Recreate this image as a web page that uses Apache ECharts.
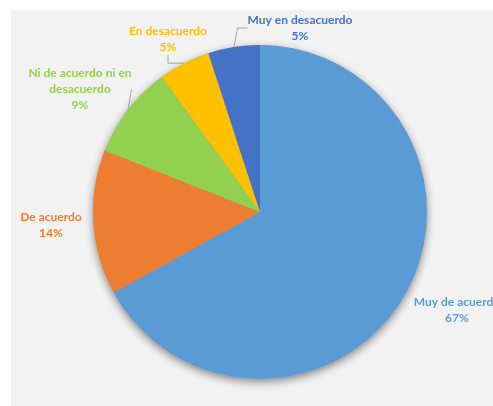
<!DOCTYPE html>
<html>
<head>
<meta charset="utf-8">
<script src="https://cdn.jsdelivr.net/npm/echarts@6/dist/echarts.min.js"></script>
<style>
  html, body { margin: 0; padding: 0; background: #ffffff; width: 493px; height: 406px; overflow: hidden; }
  #chart { position: absolute; left: 11px; top: 10px; width: 490px; height: 396px; background: #F2F2F2; }
</style>
</head>
<body>
<div id="chart"></div>
<script>
const categories = ['Muy de acuerdo', 'De acuerdo', 'Ni de acuerdo ni en\ndesacuerdo', 'En desacuerdo', 'Muy en desacuerdo'];
const values = [67, 14, 9, 5, 5];
const colors = ['#5B9BD5', '#ED7D31', '#92D050', '#FFC000', '#4472C4'];
const showLine = [false, false, true, true, true];
// label anchor positions (container px)
const labelPos = [[446, 300], [40, 215], [69, 79], [157, 29], [289, 18]];

const chart = echarts.init(document.getElementById('chart'));
const data = categories.map((c, i) => ({
  name: c, value: values[i],
  itemStyle: { color: colors[i] },
  label: { color: colors[i] },
  labelLine: { show: showLine[i] }
}));

chart.setOption({
  backgroundColor: '#F2F2F2',
  animation: false,
  series: [
    {
      type: 'pie',
      silent: true,
      center: [249, 202],
      radius: [0, 167],
      startAngle: 90,
      clockwise: true,
      z: 1,
      label: { show: false },
      labelLine: { show: false },
      itemStyle: { color: '#bbbbbb', shadowBlur: 8, shadowColor: 'rgba(0,0,0,0.45)', shadowOffsetY: 3 },
      data: values.map(v => ({ value: v }))
    },
    {
      type: 'pie',
      center: [249, 202],
      radius: [0, 167],
      startAngle: 90,
      clockwise: true,
      z: 2,
      data: data,
      label: {
        show: true,
        position: 'outside',
        formatter: p => p.name + '\n' + p.value + '%',
        fontFamily: 'Lato',
        fontWeight: 'bold',
        fontSize: 12,
        lineHeight: 16,
        align: 'center',
        overflow: 'none'
      },
      labelLine: { show: true, lineStyle: { color: '#A6A6A6', width: 1 }, length: 10, length2: 10 },
      labelLayout: function (params) {
        const p = labelPos[params.dataIndex];
        return { x: p[0], y: p[1], align: 'center', verticalAlign: 'middle' };
      }
    }
  ]
});
</script>
</body>
</html>
